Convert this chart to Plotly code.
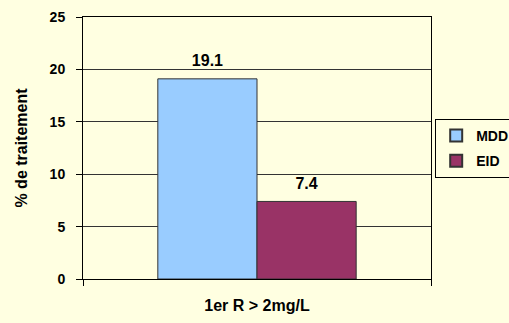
import plotly.graph_objects as go

categories = ["1er R > 2mg/L"]
series_names = ["MDD", "EID"]
mdd_values = [19.1]
eid_values = [7.4]
y_ticks = [0, 5, 10, 15, 20, 25]

bg = "#FFFFE1"
font_family = "Liberation Sans, Arial, sans-serif"
colors = ["#99CCFF", "#993366"]
series_values = [mdd_values, eid_values]

fig = go.Figure()
for name, vals, col in zip(series_names, series_values, colors):
    fig.add_trace(go.Bar(
        name=name, x=categories, y=vals, legendgroup=name,
        marker=dict(color=col, line=dict(color="#333333", width=1)),
        hoverinfo="skip",
    ))
for name, vals in zip(series_names, series_values):
    fig.add_trace(go.Scatter(
        x=categories, y=vals, mode="markers+text", showlegend=False,
        text=["%.1f" % v for v in vals], textposition="top center",
        marker=dict(size=12, opacity=0),
        textfont=dict(family=font_family, size=16, color="#000000", weight="bold"),
        cliponaxis=False, hoverinfo="skip",
    ))

fig.update_layout(
    width=509, height=323,
    margin=dict(l=83, r=78, t=17, b=44, autoexpand=False),
    paper_bgcolor=bg, plot_bgcolor=bg,
    barmode="group", bargap=0.43, bargroupgap=0,
    scattermode="group", scattergap=0.43,
    font=dict(family=font_family, color="#000000", weight="bold"),
    showlegend=True,
    legend=dict(
        xref="container", yref="container",
        x=0.855, xanchor="left", y=0.632, yanchor="top",
        bgcolor=bg, bordercolor="#000000", borderwidth=1,
        font=dict(family=font_family, size=14, color="#000000", weight="bold"),
        itemsizing="constant", itemwidth=30,
        traceorder="grouped", tracegroupgap=4,
    ),
    yaxis=dict(
        range=[0, 25], tickmode="array", tickvals=y_ticks,
        tickfont=dict(family=font_family, size=14, color="#000000", weight="bold"),
        ticks="outside", ticklen=6, tickcolor="#000000",
        ticklabelstandoff=8,
        showgrid=True, gridcolor="#333333", gridwidth=1,
        showline=True, linecolor="#000000", linewidth=1, mirror=True,
        zeroline=False, automargin=False,
        title=dict(text="% de traitement",
                   font=dict(family=font_family, size=16, color="#000000", weight="bold"),
                   standoff=18),
    ),
    xaxis=dict(
        type="category", tickson="boundaries",
        ticks="outside", ticklen=6, tickcolor="#000000",
        tickfont=dict(family=font_family, size=16, color="#000000", weight="bold"),
        ticklabelstandoff=12, automargin=False,
        showline=True, linecolor="#000000", linewidth=1, mirror=True,
        showgrid=False,
    ),
)

fig.write_html(
    "out.html",
    config={"displayModeBar": False},
    post_script="document.body.style.margin='0';document.body.style.background='#FFFFE1';",
)
